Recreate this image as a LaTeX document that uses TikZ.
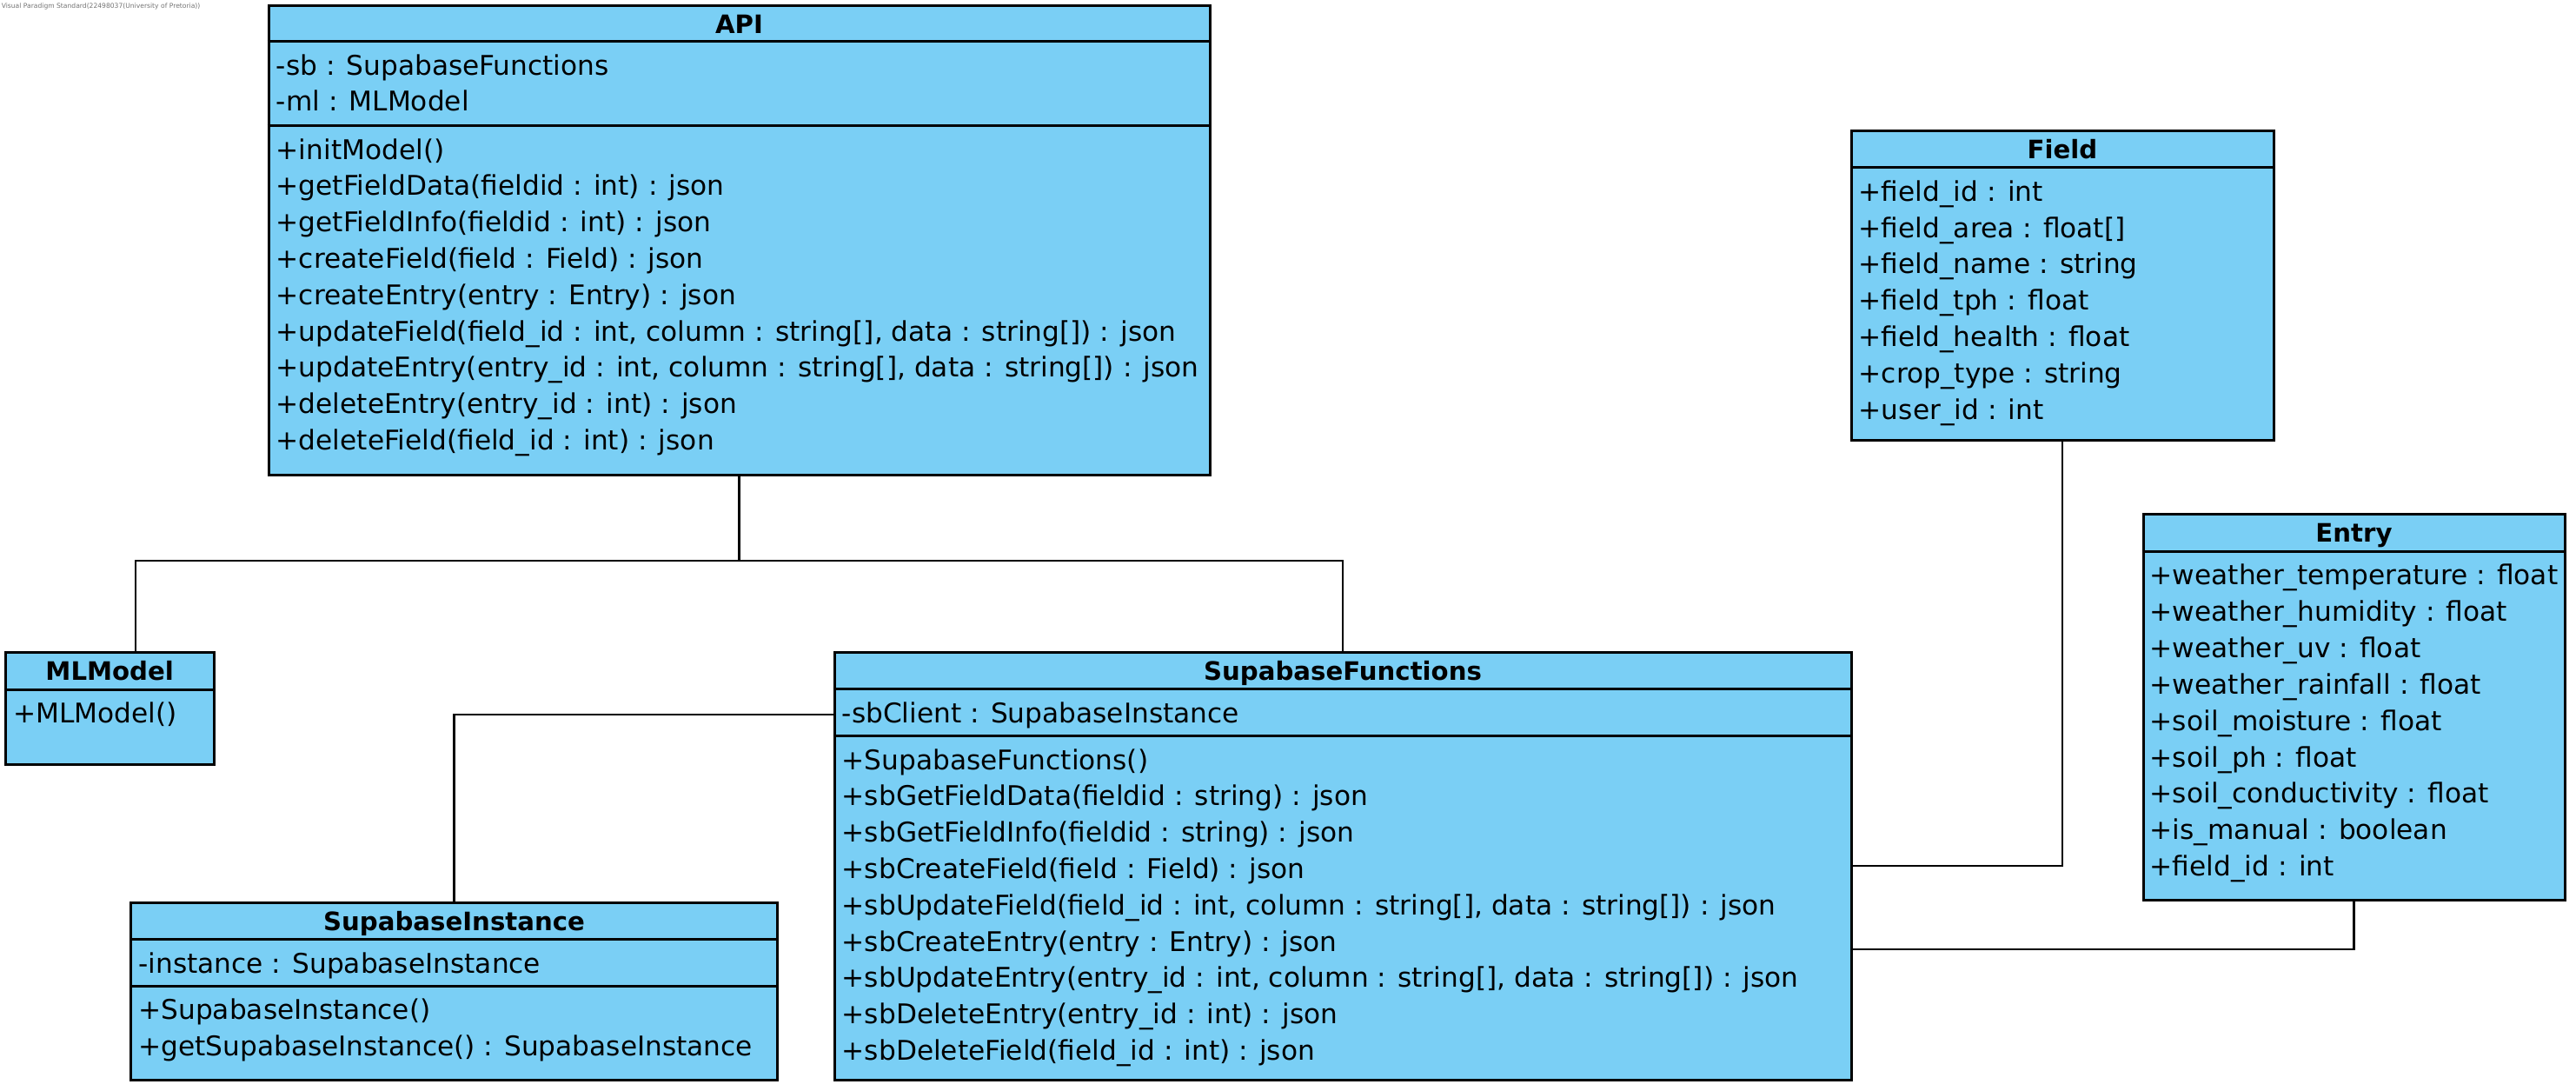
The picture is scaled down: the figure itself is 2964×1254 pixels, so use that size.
\documentclass[tikz,border=0pt]{standalone}
\usepackage{fontspec}
\setmainfont{DejaVu Sans}
\usetikzlibrary{positioning, fit}
\definecolor{classblue}{RGB}{122,207,245}

\begin{document}
\begin{tikzpicture}[x=0.25pt, y=-0.25pt,
    classbox/.style={draw, line width=0.75pt, fill=classblue, inner sep=0pt},
    divider/.style={line width=0.75pt},
    classname/.style={font=\fontsize{7.3}{9}\selectfont\bfseries, inner sep=0pt, anchor=base},
    member/.style={font=\fontsize{7.8}{9.5}\selectfont, inner sep=0pt, anchor=base west},
    assoc/.style={line width=0.55pt}]
    \useasboundingbox (0,0) rectangle (2964,1254);

    % Watermark
    \node[font=\fontsize{1.9}{2.2}\selectfont, text=black!55, inner sep=0pt, anchor=west] (mark) at (1,7) {Visual Paradigm Standard(22498037(University of Pretoria))};

    % API
    \node[classbox, fit={(309,6) (1392,546)}] (api) {};
    \draw[divider] (api.west |- 0,47.5) -- (api.east |- 0,47.5);
    \draw[divider] (api.west |- 0,144.6) -- (api.east |- 0,144.6);
    \node[classname] (apiname) at (api.north |- 0,38.5) {API};
    \foreach \txt [count=\i] in {-sb : SupabaseFunctions, -ml : MLModel}
        \node[member] (apiattr\i) at (317,{86+41.8*(\i-1)}) {\txt};
    \foreach \txt [count=\i] in {+initModel(), +getFieldData(fieldid : int) : json, +getFieldInfo(fieldid : int) : json,
        +createField(field : Field) : json, +createEntry(entry : Entry) : json,
        {+updateField(field\_id : int, column : string[], data : string[]) : json},
        {+updateEntry(entry\_id : int, column : string[], data : string[]) : json},
        +deleteEntry(entry\_id : int) : json, +deleteField(field\_id : int) : json}
        \node[member] (apiop\i) at (317,{183.1+41.8*(\i-1)}) {\txt};

    % MLModel
    \node[classbox, fit={(6.4,750) (246,879)}] (ml) {};
    \draw[divider] (ml.west |- 0,793) -- (ml.east |- 0,793);
    \node[classname] (mlname) at (ml.north |- 0,782.5) {MLModel};
    \node[member] (mlop1) at (14.4,831.5) {+MLModel()};

    % SupabaseFunctions
    \node[classbox, fit={(960,750) (2130,1242)}] (sf) {};
    \draw[divider] (sf.west |- 0,792.5) -- (sf.east |- 0,792.5);
    \draw[divider] (sf.west |- 0,846.6) -- (sf.east |- 0,846.6);
    \node[classname] (sfname) at (sf.north |- 0,782.5) {SupabaseFunctions};
    \node[member] (sfattr1) at (968,831) {-sbClient : SupabaseInstance};
    \foreach \txt [count=\i] in {+SupabaseFunctions(), +sbGetFieldData(fieldid : string) : json,
        +sbGetFieldInfo(fieldid : string) : json, +sbCreateField(field : Field) : json,
        {+sbUpdateField(field\_id : int, column : string[], data : string[]) : json},
        +sbCreateEntry(entry : Entry) : json,
        {+sbUpdateEntry(entry\_id : int, column : string[], data : string[]) : json},
        +sbDeleteEntry(entry\_id : int) : json, +sbDeleteField(field\_id : int) : json}
        \node[member] (sfop\i) at (968,{885.1+41.8*(\i-1)}) {\txt};

    % SupabaseInstance
    \node[classbox, fit={(150.6,1038) (894.5,1242)}] (si) {};
    \draw[divider] (si.west |- 0,1080.6) -- (si.east |- 0,1080.6);
    \draw[divider] (si.west |- 0,1134) -- (si.east |- 0,1134);
    \node[classname] (siname) at (si.north |- 0,1070.3) {SupabaseInstance};
    \node[member] (siattr1) at (158.6,1119.1) {-instance : SupabaseInstance};
    \foreach \txt [count=\i] in {+SupabaseInstance(), +getSupabaseInstance() : SupabaseInstance}
        \node[member] (siop\i) at (158.6,{1172.5+41.8*(\i-1)}) {\txt};

    % Field
    \node[classbox, fit={(2130,150.8) (2616,506)}] (field) {};
    \draw[divider] (field.west |- 0,192.6) -- (field.east |- 0,192.6);
    \node[classname] (fieldname) at (field.north |- 0,182.7) {Field};
    \foreach \txt [count=\i] in {+field\_id : int, +field\_area : float[], +field\_name : string,
        +field\_tph : float, +field\_health : float, +crop\_type : string, +user\_id : int}
        \node[member] (fieldattr\i) at (2138,{231.1+41.9*(\i-1)}) {\txt};

    % Entry
    \node[classbox, fit={(2466,591) (2951,1035)}] (entry) {};
    \draw[divider] (entry.west |- 0,634) -- (entry.east |- 0,634);
    \node[classname] (entryname) at (entry.north |- 0,623.5) {Entry};
    \foreach \txt [count=\i] in {+weather\_temperature : float, +weather\_humidity : float, +weather\_uv : float,
        +weather\_rainfall : float, +soil\_moisture : float, +soil\_ph : float,
        +soil\_conductivity : float, +is\_manual : boolean, +field\_id : int}
        \node[member] (entryattr\i) at (2473,{672.5+41.9*(\i-1)}) {\txt};

    % Associations
    \coordinate (bus) at (0,645);
    \coordinate (mltop) at (156,750);
    \coordinate (sbclient) at (960,822);
    \draw[assoc] (api.south) -- (api.south |- bus);
    \draw[assoc] (mltop) |- (sf.north |- bus) -- (sf.north);
    \draw[assoc] (sf.west |- sbclient) -| (si.north);
    \draw[assoc] (field.south) |- (sf.east |- 0,996);
    \draw[assoc] (entry.south) |- (sf.east |- 0,1092);
\end{tikzpicture}
\end{document}
